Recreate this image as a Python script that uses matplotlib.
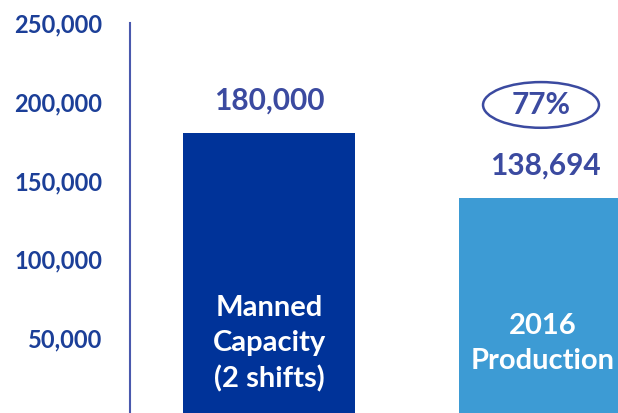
import matplotlib.pyplot as plt
from matplotlib.patches import Ellipse

plt.rcParams['font.family'] = ['Lato', 'DejaVu Sans']

# data
categories = ['Manned\nCapacity\n(2 shifts)', '2016\nProduction']
values = [180000, 138694]
bar_colors = ['#003399', '#3d9bd4']
yticks = [50000, 100000, 150000, 200000, 250000]
ratio_label = '77%'

tick_color = '#1c3f98'
label_color = '#3b4aa0'

fig = plt.figure(figsize=(6.18, 4.13), dpi=100)
ax = fig.add_axes([130 / 618, 0, 488 / 618, 390 / 413])

x = list(range(len(values)))
bars = ax.bar(x, values, width=0.623, color=bar_colors)

ax.set_xlim(-0.504, 1.264)
ax.set_ylim(2500, 250000)

# spines: only left axis line
for s in ['top', 'right', 'bottom']:
    ax.spines[s].set_visible(False)
ax.spines['left'].set_color('#4a59ad')
ax.spines['left'].set_linewidth(1.5)

ax.set_xticks([])
ax.set_yticks(yticks)
ax.set_yticklabels([f'{v:,}' for v in yticks])
ax.tick_params(axis='y', length=0, pad=20, labelsize=17, labelcolor=tick_color)
for t in ax.get_yticklabels():
    t.set_fontweight(700)

# value labels above bars
for xi, v in zip(x, values):
    ax.annotate(f'{v:,}', (xi, v), xytext=(0, 33), textcoords='offset pixels',
                ha='center', va='center', fontsize=21.5, fontweight=700,
                color=label_color)

# labels inside bars
ax.text(x[0], 46500, categories[0], ha='center', va='center', fontsize=21,
        fontweight=700, color='white', linespacing=1.42)
ax.text(x[1] - 0.01, 46500, categories[1], ha='center', va='center', fontsize=21,
        fontweight=700, color='white', linespacing=1.42)

# circled ratio
ax.text(x[1] - 0.015, 198000, ratio_label, ha='center', va='center', fontsize=21.5,
        fontweight=700, color=label_color)
ell = Ellipse((x[1] - 0.015, 198000), width=0.42, height=29000, fill=False,
              edgecolor=label_color, linewidth=1.8)
ax.add_patch(ell)

fig.savefig('out.png', dpi=100)
